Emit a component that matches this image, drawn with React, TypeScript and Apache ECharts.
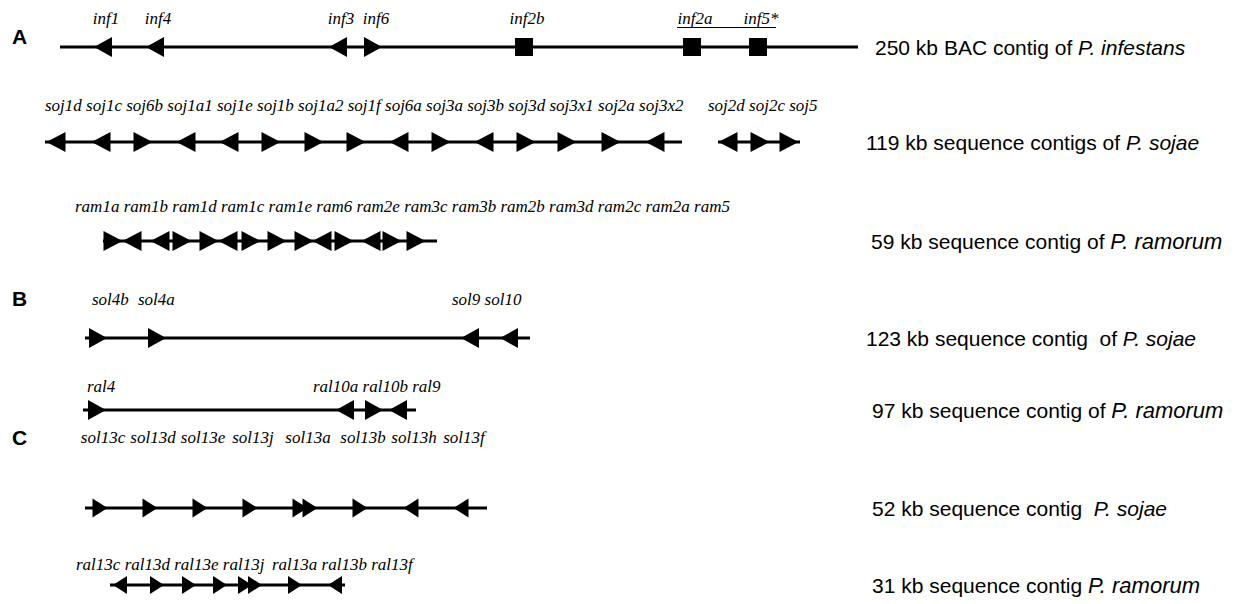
import React, { useEffect, useRef } from 'react';
import * as echarts from 'echarts';

// ---------------- DATA ----------------
// Panel A – P. infestans BAC contig
const infNames = ['inf1', 'inf4', 'inf3', 'inf6', 'inf2b', 'inf2a', 'inf5*'];
const infPos = [103, 155, 338, 373, 524, 692, 758];
const infStrand = ['-', '-', '-', '+', 'box', 'box', 'box'];
const infSpans = [[60, 858]];

// P. sojae contigs
const sojNames = ['soj1d', 'soj1c', 'soj6b', 'soj1a1', 'soj1e', 'soj1b', 'soj1a2', 'soj1f', 'soj6a',
  'soj3a', 'soj3b', 'soj3d', 'soj3x1', 'soj2a', 'soj3x2', 'soj2d', 'soj2c', 'soj5'];
const sojPos = [56, 101, 143, 186, 229, 271, 314, 356, 399, 441, 484, 526, 567, 611, 655, 728, 760, 789];
const sojStrand = ['-', '-', '+', '-', '-', '+', '+', '+', '-', '+', '-', '+', '+', '+', '-', '-', '+', '+'];
const sojSpans = [[45, 682], [718, 800]];

// P. ramorum contig
const ramNames = ['ram1a', 'ram1b', 'ram1d', 'ram1c', 'ram1e', 'ram6', 'ram2e', 'ram3c', 'ram3b',
  'ram2b', 'ram3d', 'ram2c', 'ram2a', 'ram5'];
const ramPos = [113, 132, 160, 182, 209, 228, 251, 277, 304, 322, 344, 371, 392, 416];
const ramStrand = ['+', '-', '-', '+', '+', '-', '+', '+', '+', '-', '+', '-', '+', '+'];
const ramSpans = [[103, 437]];

// Panel B
const solNames = ['sol4b', 'sol4a', 'sol9', 'sol10'];
const solPos = [98, 157, 470, 509];
const solStrand = ['+', '+', '-', '-'];
const solSpans = [[85, 530]];

const ralNames = ['ral4', 'ral10a', 'ral10b', 'ral9'];
const ralPos = [97, 345, 374, 398];
const ralStrand = ['+', '-', '+', '-'];
const ralSpans = [[83, 416]];

// Panel C
const sol13Names = ['sol13c', 'sol13d', 'sol13e', 'sol13j', 'sol13a', 'sol13a', 'sol13b', 'sol13h', 'sol13f'];
const sol13Pos = [100, 150, 200, 250, 300, 310, 360, 411, 461];
const sol13Strand = ['+', '+', '+', '+', '+', '+', '+', '-', '-'];
const sol13Spans = [[85, 487]];

const ral13Names = ['ral13c', 'ral13d', 'ral13e', 'ral13j', 'ral13a', 'ral13a', 'ral13b', 'ral13f'];
const ral13Pos = [120, 157, 189, 220, 245, 255, 295, 335];
const ral13Strand = ['-', '+', '+', '+', '+', '+', '+', '-'];
const ral13Spans = [[110, 345]];

// Descriptions [plain part, italic species]
const descPlain = [
  '250 kb BAC contig of ',
  '119 kb sequence contigs of ',
  '59 kb sequence contig of ',
  '123 kb sequence contig  of ',
  '97 kb sequence contig of ',
  '52 kb sequence contig  ',
  '31 kb sequence contig ',
];
const descSpecies = ['P. infestans', 'P. sojae', 'P. ramorum', 'P. sojae', 'P. ramorum', 'P. sojae', 'P. ramorum'];
const panelLetters = ['A', 'B', 'C'];

const tracks = [
  { names: infNames, pos: infPos, strand: infStrand, spans: infSpans },
  { names: sojNames, pos: sojPos, strand: sojStrand, spans: sojSpans },
  { names: ramNames, pos: ramPos, strand: ramStrand, spans: ramSpans },
  { names: solNames, pos: solPos, strand: solStrand, spans: solSpans },
  { names: ralNames, pos: ralPos, strand: ralStrand, spans: ralSpans },
  { names: sol13Names, pos: sol13Pos, strand: sol13Strand, spans: sol13Spans },
  { names: ral13Names, pos: ral13Pos, strand: ral13Strand, spans: ral13Spans },
];

// ---------------- LAYOUT ----------------
const W = 1236;
const H = 604;
const SERIF = '"Liberation Serif", "Times New Roman", serif';
const SANS = '"Liberation Sans", Arial, sans-serif';
type LabelGroup = [number, number, number]; // startX, fromIdx, toIdx (unique labels)
const layout: { y: number; labelY: number; arrow: [number, number]; labels: 'center' | LabelGroup[]; descX: number }[] = [
  { y: 47, labelY: 18, arrow: [18, 20], labels: 'center', descX: 875 },
  { y: 142, labelY: 105, arrow: [19, 20], labels: [[45, 0, 15], [708, 15, 18]], descX: 866 },
  { y: 241, labelY: 206, arrow: [19, 20], labels: [[75, 0, 14]], descX: 871 },
  { y: 338, labelY: 299, arrow: [18, 20], labels: [[92, 0, 1], [138, 1, 2], [452, 2, 4]], descX: 866 },
  { y: 410, labelY: 386, arrow: [18, 20], labels: [[87, 0, 1], [313, 1, 4]], descX: 872 },
  { y: 508, labelY: 437, arrow: [15, 19], labels: 'center', descX: 872 },
  { y: 585, labelY: 564, arrow: [14, 18], labels: [[76, 0, 4], [272, 4, 7]], descX: 872 },
];
const letterY = [36, 298, 437];
const LABEL_DX = 3;
const BOX = 18;

export default function App() {
  const ref = useRef<HTMLDivElement>(null);
  useEffect(() => {
    const chart = echarts.init(ref.current as HTMLDivElement, null, { renderer: 'svg' });

    const spanItems: { x1: number; x2: number; y: number }[] = [];
    const geneItems: { x: number; y: number; strand: string; L: number; H: number }[] = [];
    const labelItems: { x: number; y: number; text: string; align: string }[] = [];

    tracks.forEach((t, i) => {
      const lay = layout[i];
      t.spans.forEach(([a, b]) => spanItems.push({ x1: a, x2: b, y: lay.y }));
      t.pos.forEach((p, j) =>
        geneItems.push({ x: p, y: lay.y, strand: t.strand[j], L: lay.arrow[0], H: lay.arrow[1] })
      );
      const uniq: string[] = [];
      const groups: number[][] = [];
      t.names.forEach((n, j) => {
        if (uniq[uniq.length - 1] !== n) {
          uniq.push(n);
          groups.push([t.pos[j]]);
        } else groups[groups.length - 1].push(t.pos[j]);
      });
      if (lay.labels === 'center') {
        uniq.forEach((n, k) => {
          const c = groups[k].reduce((s, v) => s + v, 0) / groups[k].length;
          labelItems.push({ x: c + LABEL_DX, y: lay.labelY, text: n, align: 'center' });
        });
      } else {
        lay.labels.forEach(([sx, from, to]) =>
          labelItems.push({ x: sx, y: lay.labelY, text: uniq.slice(from, to).join(' '), align: 'left' })
        );
      }
    });

    const graphic: any[] = [];
    descPlain.forEach((d, i) => {
      const ram = descSpecies[i].indexOf('ramorum') >= 0;
      graphic.push({
        type: 'text',
        x: layout[i].descX,
        y: layout[i].y,
        style: {
          text: `{n|${d}}{i|${descSpecies[i]}}`,
          rich: {
            n: { fontFamily: SANS, fontSize: 21, fill: '#000' },
            i: { fontFamily: SANS, fontSize: ram ? 22 : 21, fontStyle: 'italic', fill: '#000' },
          },
          textVerticalAlign: 'middle',
          textAlign: 'left',
        },
      });
    });
    panelLetters.forEach((l, i) => {
      graphic.push({
        type: 'text',
        x: 12,
        y: letterY[i],
        style: {
          text: l,
          font: `bold 21px ${SANS}`,
          fill: '#000',
          textVerticalAlign: 'middle',
          textAlign: 'left',
        },
      });
    });
    // underline beneath inf2a ... inf5*
    graphic.push({
      type: 'line',
      shape: { x1: 677, y1: 27.5, x2: 776, y2: 27.5 },
      style: { stroke: '#000', lineWidth: 1 },
    });

    chart.setOption({
      animation: false,
      backgroundColor: '#fff',
      grid: { left: 0, right: 0, top: 0, bottom: 0 },
      xAxis: { type: 'value', min: 0, max: W, show: false },
      yAxis: { type: 'value', min: 0, max: H, inverse: true, show: false },
      graphic,
      series: [
        {
          type: 'custom',
          name: 'contigs',
          clip: false,
          silent: true,
          data: spanItems.map((s) => [s.x1, s.y, s.x2]),
          encode: { x: [0, 2], y: 1 },
          renderItem: (params: any, api: any) => {
            const it = spanItems[params.dataIndex];
            const p1 = api.coord([it.x1, it.y]);
            const p2 = api.coord([it.x2, it.y]);
            return {
              type: 'line',
              shape: { x1: p1[0], y1: p1[1], x2: p2[0], y2: p2[1] },
              style: { stroke: '#000', lineWidth: 3 },
            };
          },
        },
        {
          type: 'custom',
          name: 'genes',
          clip: false,
          silent: true,
          data: geneItems.map((g) => [g.x, g.y]),
          encode: { x: 0, y: 1 },
          renderItem: (params: any, api: any) => {
            const g = geneItems[params.dataIndex];
            const c = api.coord([g.x, g.y]);
            const cx = c[0];
            const cy = c[1];
            if (g.strand === 'box') {
              return {
                type: 'rect',
                shape: { x: cx - BOX / 2, y: cy - BOX / 2, width: BOX, height: BOX },
                style: { fill: '#000' },
              };
            }
            const hl = g.L / 2;
            const hh = g.H / 2;
            const pts =
              g.strand === '+'
                ? [[cx - hl, cy - hh], [cx + hl, cy], [cx - hl, cy + hh]]
                : [[cx + hl, cy - hh], [cx - hl, cy], [cx + hl, cy + hh]];
            return { type: 'polygon', shape: { points: pts }, style: { fill: '#000' } };
          },
        },
        {
          type: 'custom',
          name: 'labels',
          clip: false,
          silent: true,
          data: labelItems.map((l) => [l.x, l.y]),
          encode: { x: 0, y: 1 },
          renderItem: (params: any, api: any) => {
            const l = labelItems[params.dataIndex];
            const c = api.coord([l.x, l.y]);
            return {
              type: 'text',
              x: c[0],
              y: c[1],
              style: {
                text: l.text,
                font: `italic 17px ${SERIF}`,
                fill: '#000',
                textAlign: l.align,
                textVerticalAlign: 'middle',
              },
            };
          },
        },
      ],
    });
    return () => chart.dispose();
  }, []);
  return (
    <div
      ref={ref}
      style={{ position: 'absolute', left: 0, top: 0, width: W, height: H, background: '#fff' }}
    />
  );
}
